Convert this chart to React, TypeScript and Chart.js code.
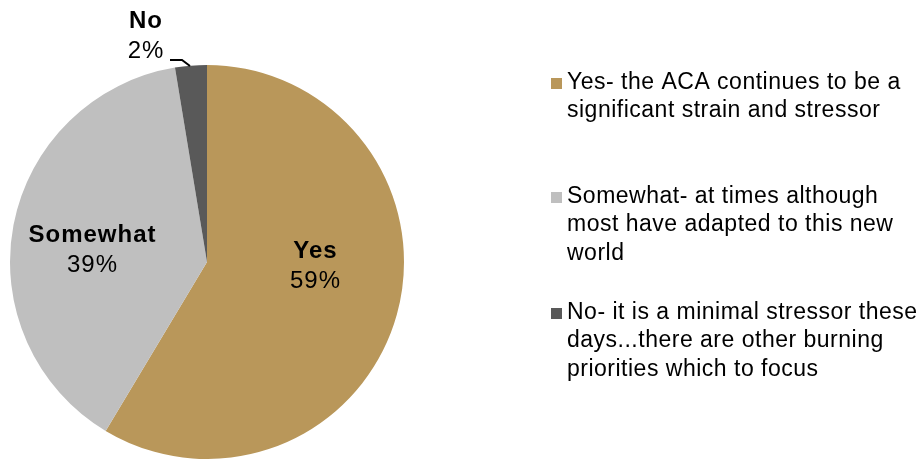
import React, { useEffect, useRef } from "react";
import { Chart, registerables } from "chart.js";

Chart.register(...registerables);

const categories: string[] = ["Yes", "Somewhat", "No"];
const values: number[] = [58.6, 38.8, 2.6];
const legendLabels: string[][] = [
  ["Yes- the ACA continues to be a", "significant strain and stressor"],
  ["Somewhat- at times although", "most have adapted to this new", "world"],
  ["No- it is a minimal stressor these", "days...there are other burning", "priorities which to focus"],
];
const pctLabels: string[] = ["59%", "39%", "2%"];
const colors: string[] = ["#B9975A", "#BFBFBF", "#595959"];

const FONT = '"Liberation Sans", Arial, Helvetica, sans-serif';

const labelPlugin = {
  id: "customLabels",
  afterDraw(chart: any) {
    const ctx = chart.ctx as CanvasRenderingContext2D;
    const meta = chart.getDatasetMeta(0);
    const arc0 = meta.data[0];
    const cx = arc0.x;
    const cy = arc0.y;
    const names = chart.data.labels as string[];

    ctx.save();
    ctx.fillStyle = "#000";
    ctx.textAlign = "center";
    ctx.textBaseline = "alphabetic";
    (ctx as any).letterSpacing = "1px";

    // label placements relative to pie centre: [dx, nameBaseline, pctBaseline]
    const places: [number, number, number][] = [
      [108.5, -4, 26],
      [-114.5, -20, 10],
      [-61, -234, -204],
    ];
    places.forEach((p, i) => {
      ctx.font = `bold 24px ${FONT}`;
      ctx.fillText(names[i], cx + p[0], cy + p[1]);
      ctx.font = `24px ${FONT}`;
      ctx.fillText(pctLabels[i], cx + p[0], cy + p[2]);
    });

    // leader line for "No"
    ctx.strokeStyle = "#000";
    ctx.lineWidth = 2;
    ctx.beginPath();
    ctx.moveTo(cx - 37, cy - 202);
    ctx.lineTo(cx - 25, cy - 202);
    ctx.lineTo(cx - 17, cy - 196);
    ctx.stroke();

    // legend
    ctx.textAlign = "left";
    (ctx as any).letterSpacing = "0.5px";
    ctx.font = `23px ${FONT}`;
    const firstBaselines = [89, 203, 319];
    const lineH = 28.3;
    legendLabels.forEach((lines, i) => {
      const b = firstBaselines[i];
      ctx.fillStyle = colors[i];
      ctx.fillRect(551, b - 11, 11, 11);
      ctx.fillStyle = "#000";
      lines.forEach((ln, j) => {
        ctx.fillText(ln, 567, b + j * lineH);
      });
    });
    ctx.restore();
  },
};

export default function App() {
  const ref = useRef<HTMLCanvasElement | null>(null);
  useEffect(() => {
    document.body.style.margin = "0";
    const canvas = ref.current;
    if (!canvas) return;
    const chart = new Chart(canvas, {
      type: "pie",
      data: {
        labels: categories,
        datasets: [
          {
            data: values,
            backgroundColor: colors,
            borderColor: colors,
            borderWidth: 0,
          },
        ],
      },
      options: {
        responsive: false,
        animation: false,
        layout: { padding: { left: 10, top: 65, right: 514, bottom: 0 } },
        plugins: {
          legend: { display: false },
          tooltip: { enabled: false },
        },
      },
      plugins: [labelPlugin],
    });
    return () => chart.destroy();
  }, []);
  return (
    <div style={{ width: 918, height: 459, background: "#fff" }}>
      <canvas ref={ref} width={918} height={459} style={{ display: "block" }} />
    </div>
  );
}
